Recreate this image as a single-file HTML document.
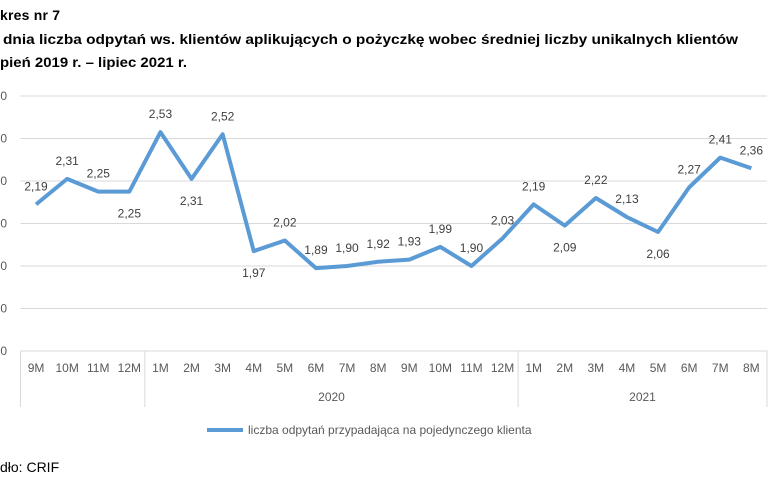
<!DOCTYPE html>
<html><head><meta charset="utf-8"><style>
html,body{margin:0;padding:0;background:#fff;}
svg{display:block;font-family:"Liberation Sans",sans-serif;}
</style></head><body>
<svg id="chart" width="768" height="489" viewBox="0 0 768 489">
<text x="0" y="20" font-size="14" font-weight="bold" fill="#000" textLength="60">kres nr 7</text>
<text x="3" y="44" font-size="14" font-weight="bold" fill="#000" textLength="735" lengthAdjust="spacingAndGlyphs">dnia liczba odpytań ws. klientów aplikujących o pożyczkę wobec średniej liczby unikalnych klientów</text>
<text x="0" y="67" font-size="14" font-weight="bold" fill="#000" textLength="187" lengthAdjust="spacingAndGlyphs">pień 2019 r. – lipiec 2021 r.</text>
<g id="grid"></g>
<g id="xaxis"></g>
<g id="series"></g>
<g>
<line x1="207" y1="430" x2="243" y2="430" stroke="#5b9bd5" stroke-width="4"/>
<text x="248" y="434" font-size="12" fill="#595959">liczba odpytań przypadająca na pojedynczego klienta</text>
</g>
<text x="0" y="472" font-size="14" fill="#000">dło: CRIF</text>
</svg>
<script>
const categories=["9M","10M","11M","12M","1M","2M","3M","4M","5M","6M","7M","8M","9M","10M","11M","12M","1M","2M","3M","4M","5M","6M","7M","8M"];
const values=[2.19,2.31,2.25,2.25,2.53,2.31,2.52,1.97,2.02,1.89,1.90,1.92,1.93,1.99,1.90,2.03,2.19,2.09,2.22,2.13,2.06,2.27,2.41,2.36];
const labelBelow=[0,0,0,1,0,1,0,1,0,0,0,0,0,0,0,0,0,1,0,0,1,0,0,0];
const yTicks=[1.5,1.7,1.9,2.1,2.3,2.5,2.7];
const years=[{label:"",start:0,end:4},{label:"2020",start:4,end:16},{label:"2021",start:16,end:24}];
const NS="http://www.w3.org/2000/svg";
const x0=20.5,bw=31.1,yBase=351,yTop=96;
const yMin=1.5,yMax=2.7;
function xPos(i){return x0+bw*(i+0.5);}
function yPos(v){return yBase-(v-yMin)/(yMax-yMin)*(yBase-yTop);}
function mk(tag,attrs,parent){const e=document.createElementNS(NS,tag);for(const k in attrs)e.setAttribute(k,attrs[k]);parent.appendChild(e);return e;}
const grid=document.getElementById('grid');
yTicks.forEach(t=>{
  const y=yPos(t);
  if(t!==yMin){const l=mk('line',{x1:x0,x2:767,y1:y,y2:y,stroke:'#d9d9d9','stroke-width':1},grid);
  
  }
  const tx=mk('text',{x:7,y:y+4,'font-size':12,fill:'#595959','text-anchor':'end'},grid);
  tx.textContent=t.toFixed(2).replace('.',',');
  
  
});
const xa=document.getElementById('xaxis');
const ax=mk('line',{x1:x0,x2:767,y1:yBase,y2:yBase,stroke:'#d9d9d9'},xa);


categories.forEach((c,i)=>{
  const t=mk('text',{x:xPos(i),y:372,'font-size':12,fill:'#595959','text-anchor':'middle'},xa);
  t.textContent=c;
  
  
});
years.forEach(g=>{
  const sx=x0+bw*g.start;
  const s=mk('line',{x1:sx,x2:sx,y1:yBase,y2:407,stroke:'#d9d9d9'},xa);
  
  
  if(g.label){const t=mk('text',{x:x0+bw*(g.start+g.end)/2,y:401,'font-size':12,fill:'#595959','text-anchor':'middle'},xa);
  t.textContent=g.label;
  
  }
});
const se=mk('line',{x1:767,x2:767,y1:yBase,y2:407,stroke:'#d9d9d9'},xa);


const sr=document.getElementById('series');
const pl=mk('polyline',{points:values.map((v,i)=>xPos(i)+','+yPos(v)).join(' '),fill:'none',stroke:'#5b9bd5','stroke-width':4,'stroke-linejoin':'round'},sr);


values.forEach((v,i)=>{
  const y=yPos(v)+(labelBelow[i]?26:-14);
  const t=mk('text',{x:xPos(i),y:y,'font-size':12,fill:'#404040','text-anchor':'middle'},sr);
  t.textContent=v.toFixed(2).replace('.',',');
  
  
});
</script>
</body></html>
